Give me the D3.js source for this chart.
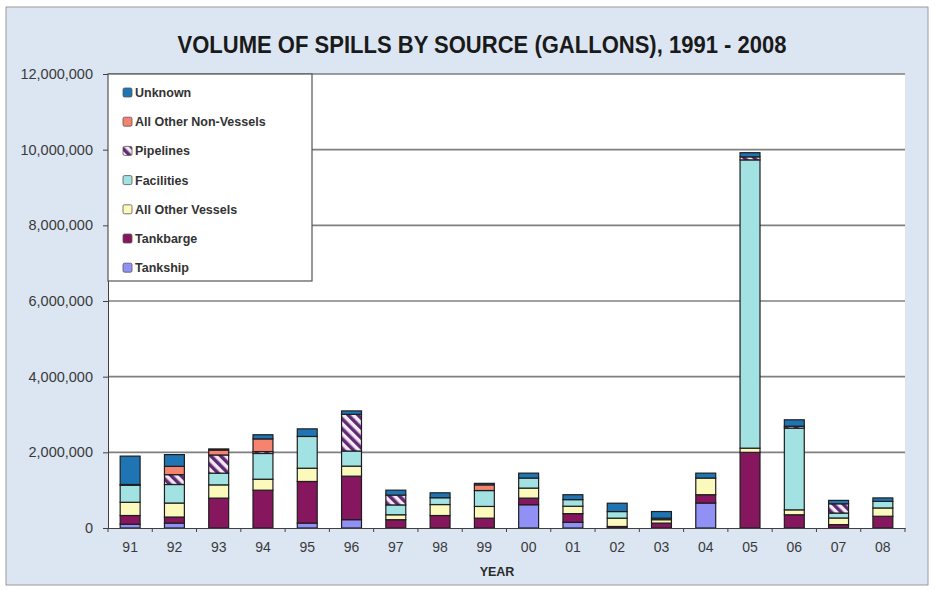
<!DOCTYPE html>
<html>
<head>
<meta charset="utf-8">
<script src="https://cdn.jsdelivr.net/npm/d3@7"></script>
<style>
  body { margin: 0; background: #fff; }
  svg { display: block; font-family: "Liberation Sans", Arial, sans-serif; }
</style>
</head>
<body>
<svg width="935" height="590"></svg>
<script>
const years = ["91", "92", "93", "94", "95", "96", "97", "98", "99", "00", "01", "02", "03", "04", "05", "06", "07", "08"];

const tankship = [100000, 130000, 0, 0, 130000, 220000, 0, 0, 0, 615000, 150000, 0, 0, 660000, 0, 0, 0, 0];
const tankbarge = [230000, 160000, 790000, 1000000, 1100000, 1150000, 220000, 330000, 260000, 175000, 230000, 40000, 130000, 220000, 2000000, 350000, 90000, 310000];
const otherVessels = [350000, 370000, 350000, 290000, 350000, 265000, 130000, 290000, 310000, 265000, 195000, 220000, 90000, 440000, 110000, 130000, 175000, 220000];
const facilities = [450000, 490000, 310000, 680000, 840000, 400000, 260000, 180000, 420000, 265000, 175000, 175000, 40000, 0, 7620000, 2160000, 130000, 175000];
const pipelines = [20000, 260000, 480000, 50000, 0, 970000, 260000, 0, 0, 0, 0, 0, 0, 0, 80000, 50000, 245000, 0];
const otherNonVessels = [0, 220000, 130000, 335000, 0, 0, 0, 0, 150000, 0, 0, 0, 0, 0, 0, 0, 0, 0];
const unknown = [750000, 310000, 30000, 110000, 200000, 90000, 130000, 130000, 40000, 130000, 130000, 220000, 175000, 130000, 110000, 170000, 90000, 90000];

const yTicks = [0, 2000000, 4000000, 6000000, 8000000, 10000000, 12000000];

// bottom to top
const series = [
  { key: "Tankship", values: tankship, fill: "#9191f5" },
  { key: "Tankbarge", values: tankbarge, fill: "#86165d" },
  { key: "All Other Vessels", values: otherVessels, fill: "#fcf9bd" },
  { key: "Facilities", values: facilities, fill: "#a3e2e2" },
  { key: "Pipelines", values: pipelines, fill: "url(#hatch)" },
  { key: "All Other Non-Vessels", values: otherNonVessels, fill: "#f5836f" },
  { key: "Unknown", values: unknown, fill: "#1f74b3" }
];

const table = years.map((yr, i) => {
  const row = { year: yr };
  series.forEach(s => (row[s.key] = s.values[i]));
  return row;
});

const svg = d3.select("svg");

const defs = svg.append("defs");
const hatch = defs
  .append("pattern")
  .attr("id", "hatch")
  .attr("patternUnits", "userSpaceOnUse")
  .attr("width", 7)
  .attr("height", 7)
  .attr("patternTransform", "rotate(-45)");
hatch.append("rect").attr("width", 7).attr("height", 7).attr("fill", "#f6e9f6");
hatch.append("rect").attr("width", 3.5).attr("height", 7).attr("fill", "#5f2a72");

// chart area
svg
  .append("rect")
  .attr("x", 6)
  .attr("y", 7)
  .attr("width", 922)
  .attr("height", 578)
  .attr("fill", "#dce6f2")
  .attr("stroke", "#9a9a9a");

const plot = { left: 108, right: 905, top: 74, bottom: 528 };

svg
  .append("rect")
  .attr("x", plot.left)
  .attr("y", plot.top)
  .attr("width", plot.right - plot.left)
  .attr("height", plot.bottom - plot.top)
  .attr("fill", "#fff");

const x = d3
  .scaleBand()
  .domain(years)
  .range([plot.left, plot.right])
  .paddingInner(0.55)
  .paddingOuter(0.275);

const y = d3
  .scaleLinear()
  .domain([0, 12000000])
  .range([plot.bottom, plot.top]);

svg
  .append("text")
  .attr("x", 482)
  .attr("y", 53)
  .attr("text-anchor", "middle")
  .attr("font-family", "'Liberation Sans Narrow', 'Arial Narrow', 'Liberation Sans', Arial, sans-serif")
  .attr("font-weight", "bold")
  .attr("font-size", 23)
  .attr("fill", "#1a1a1a")
  .attr("textLength", 609)
  .attr("lengthAdjust", "spacingAndGlyphs")
  .text("VOLUME OF SPILLS BY SOURCE (GALLONS), 1991 - 2008");

// gridlines
svg
  .append("g")
  .selectAll("line")
  .data(yTicks.filter(d => d > 0))
  .enter()
  .append("line")
  .attr("x1", plot.left)
  .attr("x2", plot.right)
  .attr("y1", d => y(d))
  .attr("y2", d => y(d))
  .attr("stroke", "#7f7f7f")
  .attr("stroke-width", 1.6);

const yAxis = svg
  .append("g")
  .attr("transform", `translate(${plot.left},0)`)
  .call(
    d3
      .axisLeft(y)
      .tickValues(yTicks)
      .tickFormat(d3.format(","))
      .tickSize(5)
      .tickPadding(10)
  );
yAxis.select(".domain").attr("stroke", "#404040");
yAxis.selectAll(".tick line").attr("stroke", "#404040");
yAxis
  .selectAll("text")
  .attr("font-family", "'Liberation Sans', Arial, sans-serif")
  .attr("font-size", 14.5)
  .attr("fill", "#3a3a3a");

const stack = d3.stack().keys(series.map(s => s.key));
const layers = stack(table);

svg
  .append("g")
  .selectAll("g")
  .data(layers)
  .enter()
  .append("g")
  .attr("fill", (d, i) => series[i].fill)
  .selectAll("rect")
  .data(d => d.filter(p => p[1] - p[0] > 0))
  .enter()
  .append("rect")
  .attr("x", d => x(d.data.year))
  .attr("width", x.bandwidth())
  .attr("y", d => y(d[1]))
  .attr("height", d => y(d[0]) - y(d[1]))
  .attr("stroke", "#1e1e1e")
  .attr("stroke-width", 1.2);

const xAxis = svg
  .append("g")
  .attr("transform", `translate(0,${plot.bottom})`)
  .call(d3.axisBottom(x).tickSize(0).tickPadding(14));
xAxis.select(".domain").attr("stroke", "#404040").attr("stroke-width", 1.2);
xAxis
  .selectAll("text")
  .attr("font-family", "'Liberation Sans', Arial, sans-serif")
  .attr("font-size", 14)
  .attr("fill", "#3a3a3a");

// small ticks between categories
svg
  .append("g")
  .selectAll("line")
  .data(d3.range(years.length + 1))
  .enter()
  .append("line")
  .attr("x1", i => plot.left + i * x.step())
  .attr("x2", i => plot.left + i * x.step())
  .attr("y1", plot.bottom)
  .attr("y2", plot.bottom + 4)
  .attr("stroke", "#404040");

svg
  .append("text")
  .attr("x", 497)
  .attr("y", 576)
  .attr("text-anchor", "middle")
  .attr("font-weight", "bold")
  .attr("font-size", 12.5)
  .attr("fill", "#2a2a2a")
  .text("YEAR");

// legend
const legend = svg.append("g").attr("transform", "translate(108,74)");
legend
  .append("rect")
  .attr("width", 204)
  .attr("height", 207)
  .attr("fill", "#fff")
  .attr("stroke", "#555")
  .attr("stroke-width", 1.2);

const items = legend
  .selectAll(".item")
  .data(series.slice().reverse())
  .enter()
  .append("g")
  .attr("class", "item")
  .attr("transform", (d, i) => `translate(15,${18.5 + i * 29.2})`);

items
  .append("rect")
  .attr("x", 0)
  .attr("y", -4.5)
  .attr("width", 9)
  .attr("height", 9)
  .attr("rx", 1.5)
  .attr("fill", d => d.fill)
  .attr("stroke", "#555")
  .attr("stroke-width", 0.8);

items
  .append("text")
  .attr("x", 12)
  .attr("y", 4.5)
  .attr("font-weight", "bold")
  .attr("font-size", 12.5)
  .attr("fill", "#333")
  .text(d => d.key);
</script>
</body>
</html>
